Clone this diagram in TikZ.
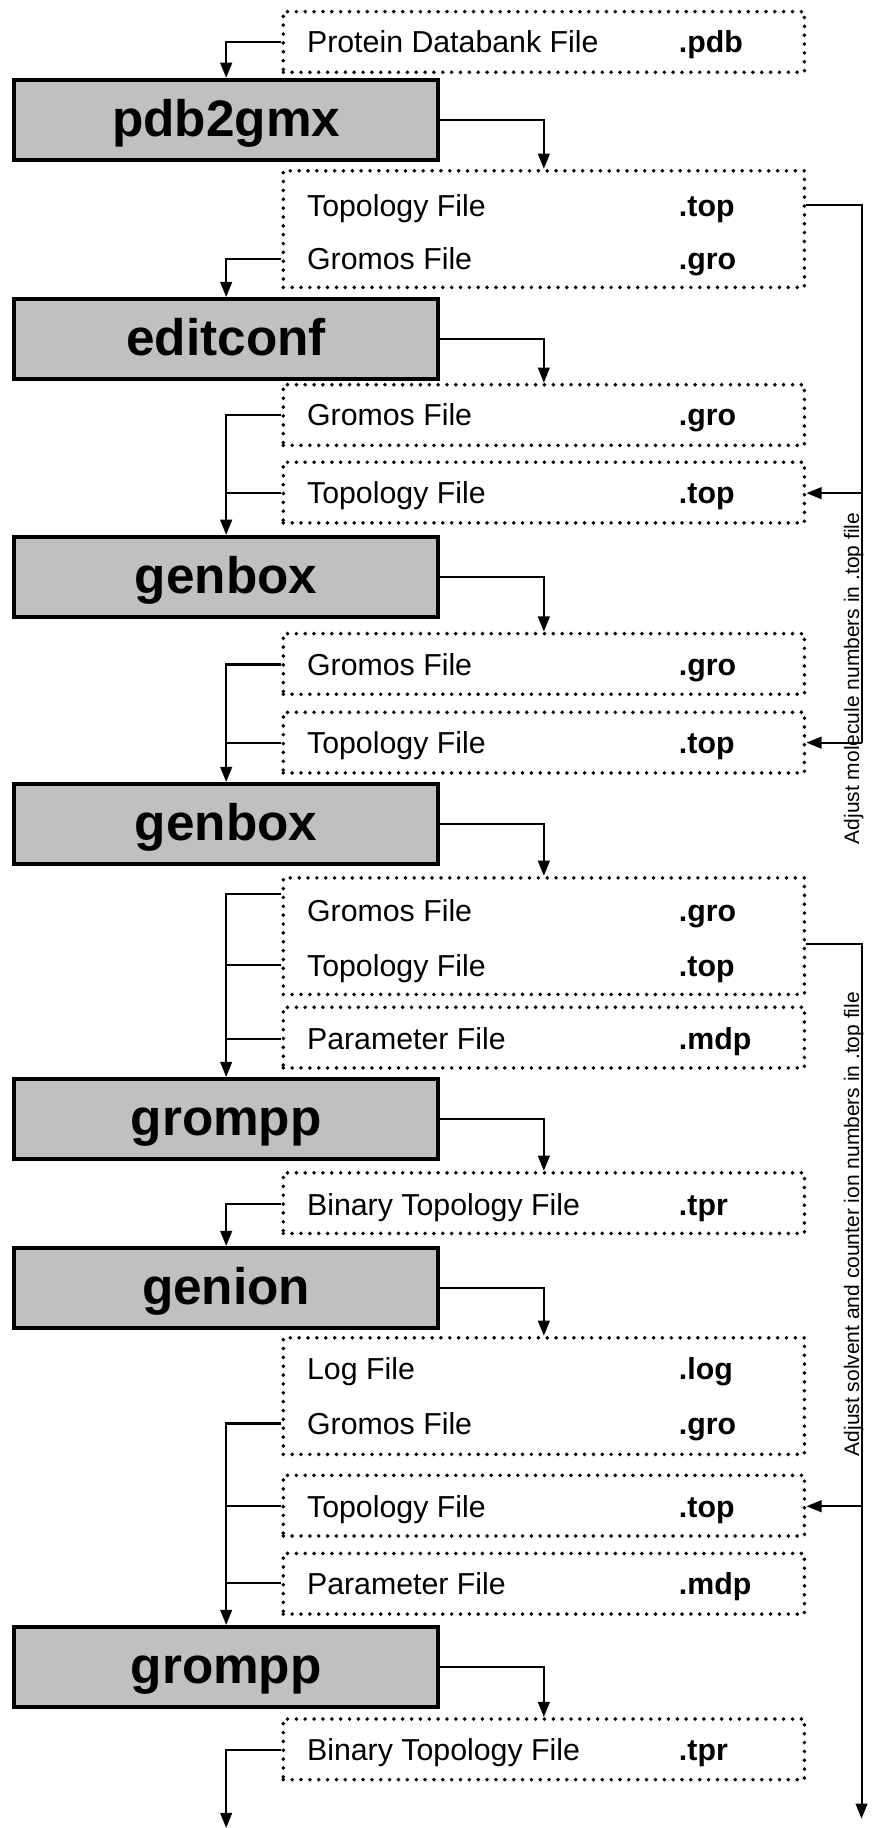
\documentclass[tikz,border=0pt]{standalone}
\usepackage{fontspec}
\setmainfont{Liberation Sans}
\usetikzlibrary{arrows.meta}
\definecolor{progfill}{RGB}{192,192,192}

\begin{document}
\begin{tikzpicture}[x=0.5pt, y=-0.5pt,
  prog/.style={draw, line width=1.7pt, fill=progfill, minimum width=182pt, minimum height=34.5pt, inner sep=0pt, text height=14pt, text depth=0pt, font=\fontsize{22}{26}\selectfont\bfseries},
  filebox/.style={draw, line width=1.7pt, dash pattern=on 0pt off 3.8pt, line cap=round, minimum width=223.5pt, minimum height=26pt, inner sep=0pt},
  dbl/.style={minimum height=50pt},
  fname/.style={anchor=west, inner sep=0pt, text height=9.3pt, text depth=0pt, font=\fontsize{13}{15}\selectfont},
  fext/.style={fname, font=\fontsize{13}{15}\selectfont\bfseries},
  wire/.style={line width=0.9pt},
  feed/.style={line width=0.9pt, -{Triangle[length=6.5pt,width=5pt]}},
  note/.style={rotate=90, anchor=base, inner sep=0pt, font=\fontsize{9}{11}\selectfont}]

\useasboundingbox (0,0) rectangle (748,1568) ;

\node [prog] (pdb2gmx) at (194,103) {pdb2gmx} ;
\node [prog] (editconf) at (194,291) {editconf} ;
\node [prog] (genboxa) at (194,495) {genbox} ;
\node [prog] (genboxb) at (194,707) {genbox} ;
\node [prog] (gromppa) at (194,960) {grompp} ;
\node [prog] (genion) at (194,1105) {genion} ;
\node [prog] (gromppb) at (194,1430) {grompp} ;

\node [filebox] (pdbbox) at (466.5,36) {} ;
\node [filebox, dbl] (outa) at (466.5,196.5) {} ;
\node [filebox] (grob) at (466.5,356) {} ;
\node [filebox] (topb) at (466.5,422.5) {} ;
\node [filebox] (groc) at (466.5,569.5) {} ;
\node [filebox] (topc) at (466.5,637) {} ;
\node [filebox, dbl] (outd) at (466.5,803) {} ;
\node [filebox] (mdpd) at (466.5,890) {} ;
\node [filebox] (tpre) at (466.5,1032) {} ;
\node [filebox, dbl] (outf) at (466.5,1197.5) {} ;
\node [filebox] (topf) at (466.5,1291.5) {} ;
\node [filebox] (mdpf) at (466.5,1358.5) {} ;
\node [filebox] (tprg) at (466.5,1500.5) {} ;

\node [fname] (pdbf) at (263,36) {Protein Databank File} ;
\node [fext] (pdbx) at (582,36) {.pdb} ;
\node [fname] (top1f) at (263,176) {Topology File} ;
\node [fext] (top1x) at (582,176) {.top} ;
\node [fname] (gro1f) at (263,222) {Gromos File} ;
\node [fext] (gro1x) at (582,222) {.gro} ;
\node [fname] (gro2f) at (263,356) {Gromos File} ;
\node [fext] (gro2x) at (582,356) {.gro} ;
\node [fname] (top2f) at (263,423) {Topology File} ;
\node [fext] (top2x) at (582,423) {.top} ;
\node [fname] (gro3f) at (263,570) {Gromos File} ;
\node [fext] (gro3x) at (582,570) {.gro} ;
\node [fname] (top3f) at (263,637) {Topology File} ;
\node [fext] (top3x) at (582,637) {.top} ;
\node [fname] (gro4f) at (263,781) {Gromos File} ;
\node [fext] (gro4x) at (582,781) {.gro} ;
\node [fname] (top4f) at (263,828) {Topology File} ;
\node [fext] (top4x) at (582,828) {.top} ;
\node [fname] (mdp4f) at (263,891) {Parameter File} ;
\node [fext] (mdp4x) at (582,891) {.mdp} ;
\node [fname] (tpr5f) at (263,1033) {Binary Topology File} ;
\node [fext] (tpr5x) at (582,1033) {.tpr} ;
\node [fname] (log6f) at (263,1174) {Log File} ;
\node [fext] (log6x) at (582,1174) {.log} ;
\node [fname] (gro6f) at (263,1221) {Gromos File} ;
\node [fext] (gro6x) at (582,1221) {.gro} ;
\node [fname] (top6f) at (263,1292) {Topology File} ;
\node [fext] (top6x) at (582,1292) {.top} ;
\node [fname] (mdp6f) at (263,1358) {Parameter File} ;
\node [fext] (mdp6x) at (582,1358) {.mdp} ;
\node [fname] (tpr7f) at (263,1501) {Binary Topology File} ;
\node [fext] (tpr7x) at (582,1501) {.tpr} ;

\coordinate (rail) at (739,0) ;
\coordinate (outright) at (739,1560) ;
\coordinate (outleft) at (194,1568) ;
\coordinate (gro4in) at (outd.west |- gro4f) ;

\draw [feed] (pdbbox.west |- pdbf) -| (pdb2gmx.north) ;
\draw [feed] (pdb2gmx.east) -| (outa.north) ;
\draw [feed] (outa.west |- gro1f) -| (editconf.north) ;
\draw [feed] (editconf.east) -| (grob.north) ;
\draw [feed] (grob.west |- gro2f) -| (genboxa.north) ;
\draw [wire] (topb.west |- top2f) -- (genboxa.north |- top2f) ;
\draw [feed] (genboxa.east) -| (groc.north) ;
\draw [feed] (groc.west |- gro3f) -| (genboxb.north) ;
\draw [wire] (topc.west |- top3f) -- (genboxb.north |- top3f) ;
\draw [feed] (genboxb.east) -| (outd.north) ;
\draw [feed] ([yshift=7pt]gro4in) -| (gromppa.north) ;
\draw [wire] (outd.west |- top4f) -- (gromppa.north |- top4f) ;
\draw [wire] (mdpd.west |- mdp4f) -- (gromppa.north |- mdp4f) ;
\draw [feed] (gromppa.east) -| (tpre.north) ;
\draw [feed] (tpre.west |- tpr5f) -| (genion.north) ;
\draw [feed] (genion.east) -| (outf.north) ;
\draw [feed] (outf.west |- gro6f) -| (gromppb.north) ;
\draw [wire] (topf.west |- top6f) -- (gromppb.north |- top6f) ;
\draw [wire] (mdpf.west |- mdp6f) -- (gromppb.north |- mdp6f) ;
\draw [feed] (gromppb.east) -| (tprg.north) ;
\draw [feed] (tprg.west |- tpr7f) -| (outleft) ;

\draw [wire] (outa.east |- top1f) -| (rail |- top3f) ;
\draw [feed] (rail |- top2f) -- (topb.east |- top2f) ;
\draw [feed] (rail |- top3f) -- (topc.east |- top3f) ;
\draw [feed] ([yshift=-3.5pt]outd.east) -| (outright) ;
\draw [feed] (rail |- top6f) -- (topf.east |- top6f) ;

\node [note] (adjmol) at (737,582) {Adjust molecule numbers in .top file} ;
\node [note] (adjion) at (737,1050) {Adjust solvent and counter ion numbers in .top file} ;

\end{tikzpicture}
\end{document}
